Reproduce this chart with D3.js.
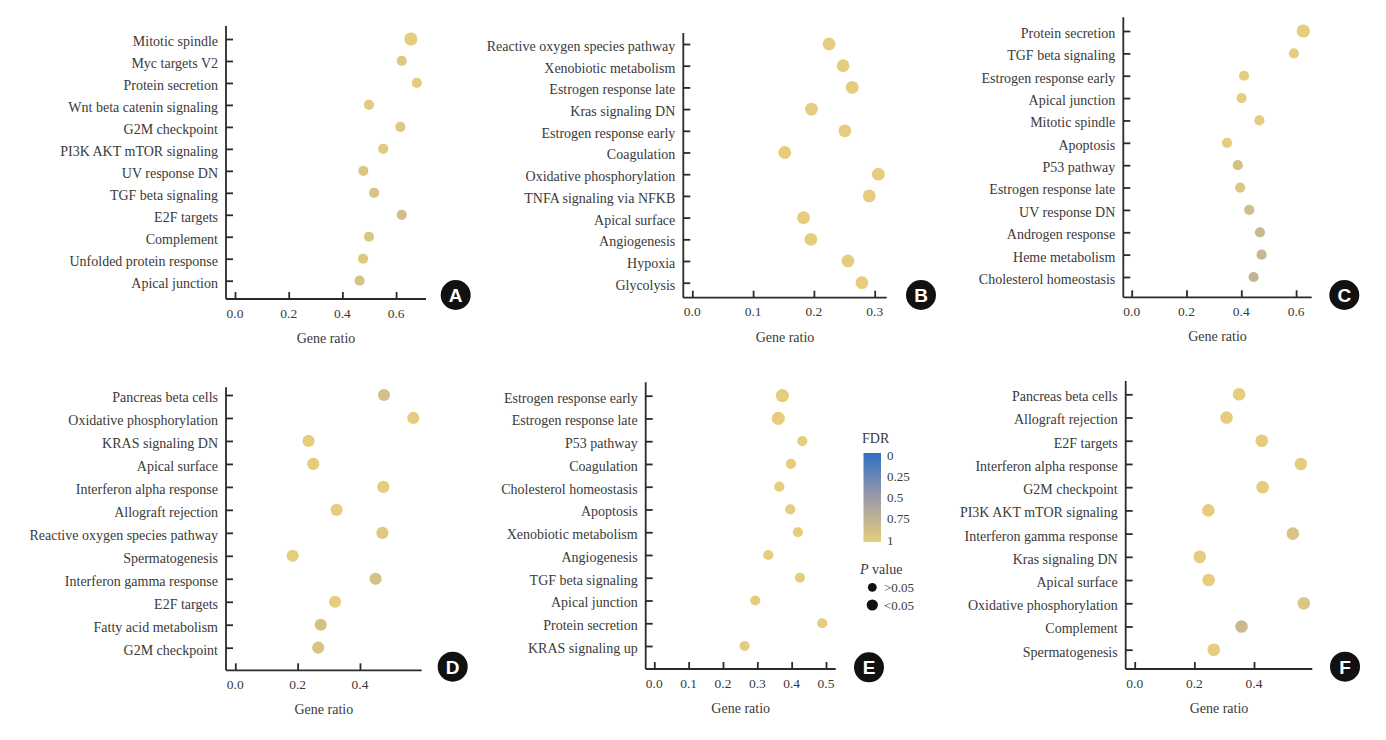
<!DOCTYPE html>
<html>
<head>
<meta charset="utf-8">
<script src="https://cdn.jsdelivr.net/npm/d3@7"></script>
<style>
  html, body { margin: 0; padding: 0; background: #fff; }
  svg { display: block; }
</style>
</head>
<body>
<svg id="chart" width="1386" height="740"></svg>
<script>
const SERIF = "'Liberation Serif', 'Times New Roman', Tinos, 'DejaVu Serif', serif";
// ---------------- DATA ----------------
const catsA = ["Mitotic spindle","Myc targets V2","Protein secretion","Wnt beta catenin signaling","G2M checkpoint","PI3K AKT mTOR signaling","UV response DN","TGF beta signaling","E2F targets","Complement","Unfolded protein response","Apical junction"];
const ratioA = [0.655,0.621,0.677,0.499,0.616,0.552,0.478,0.518,0.621,0.499,0.477,0.464];
const fdrA   = [1,0.95,1,0.97,0.95,0.97,0.93,0.9,0.85,0.93,0.95,0.9];
const sigA   = [1,0,0,0,0,0,0,0,0,0,0,0];

const catsB = ["Reactive oxygen species pathway","Xenobiotic metabolism","Estrogen response late","Kras signaling DN","Estrogen response early","Coagulation","Oxidative phosphorylation","TNFA signaling via NFKB","Apical surface","Angiogenesis","Hypoxia","Glycolysis"];
const ratioB = [0.225,0.248,0.263,0.196,0.251,0.152,0.306,0.291,0.183,0.195,0.256,0.279];
const fdrB   = [1,1,1,1,1,1,1,1,1,1,1,1];
const sigB   = [1,1,1,1,1,1,1,1,1,1,1,1];

const catsC = ["Protein secretion","TGF beta signaling","Estrogen response early","Apical junction","Mitotic spindle","Apoptosis","P53 pathway","Estrogen response late","UV response DN","Androgen response","Heme metabolism","Cholesterol homeostasis"];
const ratioC = [0.626,0.592,0.41,0.401,0.466,0.348,0.387,0.396,0.429,0.468,0.474,0.445];
const fdrC   = [1,1,1,1,1,1,0.88,0.93,0.85,0.8,0.78,0.75];
const sigC   = [1,0,0,0,0,0,0,0,0,0,0,0];

const catsD = ["Pancreas beta cells","Oxidative phosphorylation","KRAS signaling DN","Apical surface","Interferon alpha response","Allograft rejection","Reactive oxygen species pathway","Spermatogenesis","Interferon gamma response","E2F targets","Fatty acid metabolism","G2M checkpoint"];
const ratioD = [0.477,0.571,0.235,0.25,0.475,0.325,0.472,0.184,0.45,0.32,0.274,0.266];
const fdrD   = [0.87,1,1,1,1,1,0.95,1,0.88,1,0.88,0.9];
const sigD   = [1,1,1,1,1,1,1,1,1,1,1,1];

const catsE = ["Estrogen response early","Estrogen response late","P53 pathway","Coagulation","Cholesterol homeostasis","Apoptosis","Xenobiotic metabolism","Angiogenesis","TGF beta signaling","Apical junction","Protein secretion","KRAS signaling up"];
const ratioE = [0.373,0.361,0.431,0.398,0.364,0.396,0.418,0.332,0.424,0.294,0.489,0.263];
const fdrE   = [1,1,1,1,1,1,1,1,1,1,1,1];
const sigE   = [1,1,0,0,0,0,0,0,0,0,0,0];

const catsF = ["Pancreas beta cells","Allograft rejection","E2F targets","Interferon alpha response","G2M checkpoint","PI3K AKT mTOR signaling","Interferon gamma response","Kras signaling DN","Apical surface","Oxidative phosphorylation","Complement","Spermatogenesis"];
const ratioF = [0.35,0.308,0.426,0.557,0.429,0.247,0.53,0.218,0.248,0.567,0.358,0.265];
const fdrF   = [1,1,1,1,1,1,0.9,1,1,0.93,0.8,1];
const sigF   = [1,1,1,1,1,1,1,1,1,1,1,1];

const ticksA = [0,0.2,0.4,0.6];
const ticksB = [0,0.1,0.2,0.3];
const ticksC = [0,0.2,0.4,0.6];
const ticksD = [0,0.2,0.4];
const ticksE = [0,0.1,0.2,0.3,0.4,0.5];
const ticksF = [0,0.2,0.4];

const fdrTicks = [0,0.25,0.5,0.75,1];
const pLabels = [">0.05","<0.05"];

// ---------------- LAYOUT ----------------
const svg = d3.select("#chart");
const fdrColor = d3.scaleLinear().domain([0,0.5,1]).range(["#2f6fc0","#9b9aaa","#e6cd7d"]).interpolate(d3.interpolateRgb);
const sizeFor = (panelBig, s) => s ? panelBig : 5.1;
const TXT = "#3a3a3a";

function t(sel, size) {
  return sel.style("font-family", SERIF).style("font-size", size + "px").style("fill", TXT);
}

const panels = [
  {id:"A", cats:catsA, ratio:ratioA, fdr:fdrA, sig:sigA, ticks:ticksA, left:226, right:426, zero:235, k:268.5, top:26, y0:39, y1:280.7, base:299, big:6.6, badge:[455.7,295]},
  {id:"B", cats:catsB, ratio:ratioB, fdr:fdrB, sig:sigB, ticks:ticksB, left:683.3, right:886.7, zero:692.3, k:608, top:33, y0:44, y1:282.7, base:297.7, big:6.4, badge:[921,295]},
  {id:"C", cats:catsC, ratio:ratioC, fdr:fdrC, sig:sigC, ticks:ticksC, left:1123.3, right:1311.7, zero:1131.7, k:274, top:17.3, y0:31, y1:277, base:297.3, big:6.6, badge:[1344.3,295]},
  {id:"D", cats:catsD, ratio:ratioD, fdr:fdrD, sig:sigD, ticks:ticksD, left:226, right:421.7, zero:235.3, k:311.7, top:387.3, y0:395, y1:647.7, base:670.3, big:6.1, badge:[452.7,666.7]},
  {id:"E", cats:catsE, ratio:ratioE, fdr:fdrE, sig:sigE, ticks:ticksE, left:645.7, right:835.7, zero:654.3, k:343.4, top:382.3, y0:395.7, y1:646, base:669, big:6.6, badge:[869,667.3]},
  {id:"F", cats:catsF, ratio:ratioF, fdr:fdrF, sig:sigF, ticks:ticksF, left:1125.7, right:1312.3, zero:1134.7, k:298.3, top:381, y0:394.3, y1:649.7, base:669, big:6.3, badge:[1345,666.7]}
];

panels.forEach(p => {
  const x = d3.scaleLinear()
    .domain([(p.left - p.zero)/p.k, (p.right - p.zero)/p.k])
    .range([p.left, p.right]);
  const y = d3.scalePoint().domain(p.cats).range([p.y0, p.y1]);
  const g = svg.append("g");

  const data = p.cats.map((c,i) => ({c, r:p.ratio[i], f:p.fdr[i], s:p.sig[i]}));
  g.selectAll("circle.pt").data(data).join("circle")
    .attr("class","pt")
    .attr("cx", d => x(d.r))
    .attr("cy", d => y(d.c))
    .attr("r", d => sizeFor(p.big, d.s))
    .attr("fill", d => fdrColor(d.f));

  const ya = g.append("g").attr("transform", `translate(${p.left},0)`)
    .call(d3.axisRight(y).tickSize(7).tickFormat(""));
  ya.select(".domain").remove();
  ya.selectAll(".tick line").attr("stroke","#2a2a2a").attr("stroke-width",1.8);
  g.append("line").attr("x1",p.left).attr("x2",p.left).attr("y1",p.top).attr("y2",p.base)
    .attr("stroke","#2a2a2a").attr("stroke-width",1.8);
  t(g.selectAll("text.cat").data(p.cats).join("text")
    .attr("class","cat")
    .attr("x", p.left - 8)
    .attr("y", d => y(d) + 2)
    .attr("dy","0.35em")
    .attr("text-anchor","end")
    .text(d => d), 14);

  const xa = g.append("g").attr("transform", `translate(0,${p.base})`)
    .call(d3.axisTop(x).tickValues(p.ticks).tickSize(7).tickFormat(""));
  xa.select(".domain").remove();
  xa.selectAll(".tick line").attr("stroke","#2a2a2a").attr("stroke-width",1.8);
  g.append("line").attr("x1",p.left).attr("x2",p.right).attr("y1",p.base).attr("y2",p.base)
    .attr("stroke","#2a2a2a").attr("stroke-width",1.8);
  t(g.selectAll("text.tk").data(p.ticks).join("text")
    .attr("class","tk")
    .attr("x", d => x(d))
    .attr("y", p.base + 14)
    .attr("dy","0.35em")
    .attr("text-anchor","middle")
    .text(d => d3.format(".1f")(d)), 13.5);

  t(g.append("text")
    .attr("x", (p.left + p.right)/2)
    .attr("y", p.base + 39)
    .attr("dy","0.35em")
    .attr("text-anchor","middle")
    .text("Gene ratio"), 14);

  g.append("circle").attr("cx",p.badge[0]).attr("cy",p.badge[1]).attr("r",15).attr("fill","#111");
  g.append("text").attr("x",p.badge[0]).attr("y",p.badge[1]).attr("dy","0.36em")
    .attr("text-anchor","middle")
    .style("font-family","'Liberation Sans', Arial, sans-serif")
    .style("font-weight","bold").style("fill","#fff")
    .style("font-size","19px").text(p.id);
});

// ---------------- LEGEND ----------------
const lg = svg.append("g");
t(lg.append("text").attr("x",862).attr("y",438.5).attr("dy","0.35em").text("FDR"), 14);
const defs = svg.append("defs");
const grad = defs.append("linearGradient").attr("id","fdrGrad").attr("x1",0).attr("x2",0).attr("y1",0).attr("y2",1);
d3.range(0,1.0001,0.1).forEach(v => grad.append("stop").attr("offset",v).attr("stop-color",fdrColor(v)));
const fy = d3.scaleLinear().domain([0,1]).range([455,540]);
lg.append("rect").attr("x",863.5).attr("y",fy(0)-2).attr("width",17.5).attr("height",fy(1)-fy(0)+4).attr("fill","url(#fdrGrad)");
t(lg.selectAll("text.fl").data(fdrTicks).join("text")
  .attr("x",887).attr("y",d=>fy(d)).attr("dy","0.35em")
  .text(d => d3.format("")(d)), 13);

const pt = t(lg.append("text").attr("x",860).attr("y",569.5).attr("dy","0.35em"), 14);
pt.append("tspan").style("font-style","italic").text("P");
pt.append("tspan").text(" value");
const pRad = [4.4, 5.6];
const py = d3.scalePoint().domain(pLabels).range([587.3,605]);
lg.selectAll("circle.pl").data(pLabels).join("circle")
  .attr("cx",872.3).attr("cy",d=>py(d)).attr("r",(d,i)=>pRad[i]).attr("fill","#111");
t(lg.selectAll("text.pl").data(pLabels).join("text")
  .attr("x",884).attr("y",d=>py(d)).attr("dy","0.35em").text(d=>d), 13);
</script>
</body>
</html>
